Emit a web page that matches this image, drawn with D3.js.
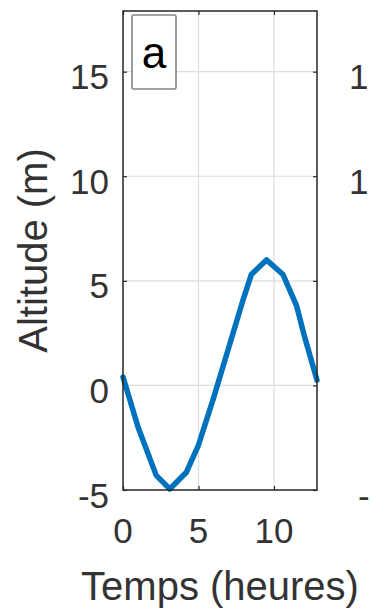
<!DOCTYPE html>
<html>
<head>
<meta charset="utf-8">
<script src="https://cdn.jsdelivr.net/npm/d3@7"></script>
<style>
  html, body { margin: 0; padding: 0; background: #fff; }
  svg { display: block; }
  text { font-family: "Liberation Sans", Arial, Helvetica, sans-serif; }
</style>
</head>
<body>
<svg id="chart" width="372" height="608"></svg>
<script>
// ---- data ----
const timeHours = [0, 1, 2.2, 3.1, 4.2, 5, 6, 7, 8, 8.5, 9.5, 10.6, 11.5, 12, 12.85];
const altitude  = [0.4, -2.0, -4.3, -4.95, -4.15, -2.85, -0.6, 1.8, 4.2, 5.3, 6.0, 5.3, 3.8, 2.4, 0.25];
const xTicks = [0, 5, 10];
const yTicks = [-5, 0, 5, 10, 15];
// visible part of the neighbouring panel's tick labels
const neighborTickValues = [15, 10, -5];
const neighborTickText = ["1", "1", "-"];
const panelLabel = "a";
const xTitle = "Temps (heures)";
const yTitle = "Altitude (m)";

// ---- layout ----
const svg = d3.select("#chart");
const L = 123, R = 317, T = 11, B = 490;
const x = d3.scaleLinear().domain([0, 12.85]).range([L, R]);
const y = d3.scaleLinear().domain([-5, 17.9]).range([B, T]);
const axisCol = "#262626";
const textCol = "#333333";
const tickFont = 35;

// grid
const g = svg.append("g");
g.selectAll(".gx").data(xTicks.filter(d => d > 0)).enter().append("line")
  .attr("x1", d => x(d)).attr("x2", d => x(d)).attr("y1", T).attr("y2", B)
  .attr("stroke", "#dedede").attr("stroke-width", 1.2);
g.selectAll(".gy").data(yTicks.filter(d => d > -5)).enter().append("line")
  .attr("y1", d => y(d)).attr("y2", d => y(d)).attr("x1", L).attr("x2", R)
  .attr("stroke", "#dedede").attr("stroke-width", 1.2);

// axes via d3 axis (inward ticks)
const axL = svg.append("g").attr("transform", `translate(${L},0)`)
  .call(d3.axisLeft(y).tickValues(yTicks).tickSize(-4).tickFormat(""));
const axR = svg.append("g").attr("transform", `translate(${R},0)`)
  .call(d3.axisRight(y).tickValues(yTicks).tickSize(-4).tickFormat(""));
const axB = svg.append("g").attr("transform", `translate(0,${B})`)
  .call(d3.axisBottom(x).tickValues(xTicks).tickSize(-4).tickFormat(""));
const axT = svg.append("g").attr("transform", `translate(0,${T})`)
  .call(d3.axisTop(x).tickValues(xTicks).tickSize(-4).tickFormat(""));
[axL, axR, axB, axT].forEach(a => {
  a.selectAll(".domain").remove();
  a.selectAll("line").attr("stroke", axisCol).attr("stroke-width", 1.2);
});

// line
const line = d3.line().x((d, i) => x(timeHours[i])).y(d => y(d));
svg.append("path").datum(altitude)
  .attr("d", line)
  .attr("fill", "none")
  .attr("stroke", "#0072BD")
  .attr("stroke-width", 5.5)
  .attr("stroke-linejoin", "round")
  .attr("stroke-linecap", "round");

// box
svg.append("rect").attr("x", L).attr("y", T).attr("width", R - L).attr("height", B - T)
  .attr("fill", "none").attr("stroke", axisCol).attr("stroke-width", 1.5);

// tick labels
svg.selectAll(".yl").data(yTicks).enter().append("text")
  .attr("x", 109).attr("y", d => y(d) + 17.5)
  .attr("text-anchor", "end").attr("font-size", tickFont).attr("fill", textCol)
  .text(d => d);
svg.selectAll(".xl").data(xTicks).enter().append("text")
  .attr("x", d => x(d)).attr("y", 543)
  .attr("text-anchor", "middle").attr("font-size", tickFont).attr("fill", textCol)
  .text(d => d);

// neighbouring panel's tick labels (only their visible first glyphs)
svg.selectAll(".nl").data(neighborTickValues).enter().append("text")
  .attr("x", (d, i) => neighborTickText[i] === "-" ? 358 : 349)
  .attr("y", d => y(d) + 17.5)
  .attr("text-anchor", "start").attr("font-size", tickFont).attr("fill", textCol)
  .text((d, i) => neighborTickText[i]);

// axis titles
svg.append("text").attr("x", (L + R) / 2).attr("y", 600)
  .attr("text-anchor", "middle").attr("font-size", 40).attr("fill", textCol)
  .text(xTitle);
svg.append("text").attr("transform", `translate(47,${(T + B) / 2}) rotate(-90)`)
  .attr("text-anchor", "middle").attr("font-size", 40).attr("fill", textCol)
  .text(yTitle);

// panel label box
svg.append("rect").attr("x", 132).attr("y", 15).attr("width", 44).attr("height", 74)
  .attr("rx", 1.5).attr("fill", "#fff").attr("stroke", "#858585").attr("stroke-width", 1.6);
svg.append("text").attr("x", 154).attr("y", 68)
  .attr("text-anchor", "middle").attr("font-size", 44).attr("fill", "#000")
  .text(panelLabel);
</script>
</body>
</html>
